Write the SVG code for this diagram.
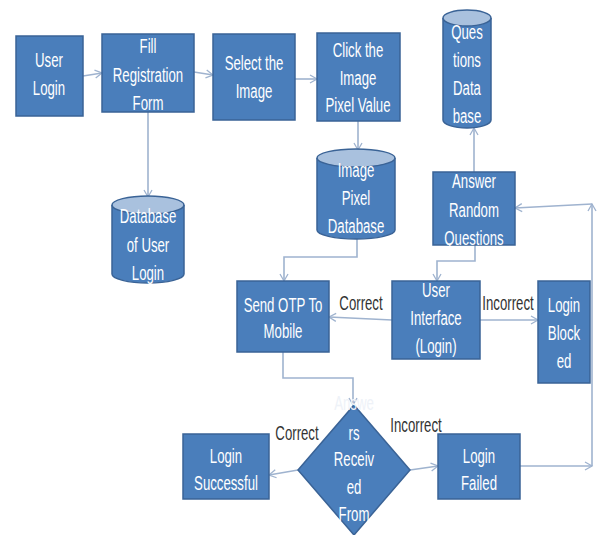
<svg xmlns="http://www.w3.org/2000/svg" width="597" height="535" viewBox="0 0 597 535">
<defs>
<marker id="arr" markerWidth="10" markerHeight="10" refX="8" refY="5" orient="auto" markerUnits="userSpaceOnUse">
<path d="M1,1 L8,5 L1,9" fill="none" stroke="#9fb3cf" stroke-width="1.3"/>
</marker>
<style>
.box{fill:#4a7ebb;stroke:#3a6396;stroke-width:1.5}
.top{fill:#a9c1de;stroke:#3a6396;stroke-width:1.5}
.t{fill:#ffffff;font-family:"Liberation Sans",Arial,sans-serif;font-size:20px;text-anchor:middle}
.lbl{fill:#333333;font-family:"Liberation Sans",Arial,sans-serif;font-size:20px;text-anchor:middle}
.c{fill:none;stroke:#9fb3cf;stroke-width:1.6;marker-end:url(#arr)}
</style>
</defs>
<rect width="597" height="535" fill="#ffffff"/>
<g id="connectors">
<path class="c" d="M83,76 L102,73"/>
<path class="c" d="M194,72 L213,75"/>
<path class="c" d="M295,79 L317,79"/>
<path class="c" d="M148,112 L148,197"/>
<path class="c" d="M358,121 L358,150"/>
<path class="c" d="M357,238 L357,257 L284,257 L284,281"/>
<path class="c" d="M474,172 L474,128"/>
<path class="c" d="M475,245 L475,261 L437,261 L437,281"/>
<path class="c" d="M392,320 L329,317"/>
<path class="c" d="M480,320 L538,320"/>
<path class="c" d="M283,352 L283,378 L353,378 L353,405"/>
<path class="c" d="M298,470 L269,475"/>
<path class="c" d="M410,470 L438,466"/>
<path class="c" d="M520,466 L592,466"/>
<path class="c" d="M592,466 L592,204"/>
<path class="c" d="M592,204 L515,208"/>
</g>
<g id="labels">
<g transform="translate(361,0) scale(0.66,1)"><text class="lbl" x="0" y="310">Correct</text></g>
<g transform="translate(508,0) scale(0.66,1)"><text class="lbl" x="0" y="310">Incorrect</text></g>
<g transform="translate(297,0) scale(0.66,1)"><text class="lbl" x="0" y="440">Correct</text></g>
<g transform="translate(416,0) scale(0.66,1)"><text class="lbl" x="0" y="432">Incorrect</text></g>
</g>
<g id="user-login">
<rect class="box" x="16" y="36" width="67" height="80"/>
<g transform="translate(49,0) scale(0.66,1)">
<text class="t" x="0" y="67">User</text>
<text class="t" x="0" y="95">Login</text>
</g>
</g>
<g id="fill-registration">
<rect class="box" x="102" y="34" width="92" height="78"/>
<g transform="translate(148,0) scale(0.66,1)">
<text class="t" x="0" y="53">Fill</text>
<text class="t" x="0" y="82">Registration</text>
<text class="t" x="0" y="110">Form</text>
</g>
</g>
<g id="select-image">
<rect class="box" x="213" y="34" width="82" height="86"/>
<g transform="translate(254,0) scale(0.66,1)">
<text class="t" x="0" y="70">Select the</text>
<text class="t" x="0" y="98">Image</text>
</g>
</g>
<g id="click-pixel">
<rect class="box" x="317" y="33" width="83" height="88"/>
<g transform="translate(358,0) scale(0.66,1)">
<text class="t" x="0" y="57">Click the</text>
<text class="t" x="0" y="85">Image</text>
<text class="t" x="0" y="112">Pixel Value</text>
</g>
</g>
<g id="questions-db">
<path class="box" d="M443,18 L443,120 A24,8 0 0 0 491,120 L491,18"/>
<ellipse class="top" cx="467" cy="18" rx="24" ry="8"/>
<g transform="translate(467,0) scale(0.66,1)">
<text class="t" x="0" y="39">Ques</text>
<text class="t" x="0" y="67">tions</text>
<text class="t" x="0" y="95">Data</text>
<text class="t" x="0" y="123">base</text>
</g>
</g>
<g id="image-pixel-db">
<path class="box" d="M317,158 L317,230 A39,9 0 0 0 395,230 L395,158"/>
<ellipse class="top" cx="356" cy="158" rx="39" ry="9"/>
<g transform="translate(356,0) scale(0.66,1)">
<text class="t" x="0" y="177">Image</text>
<text class="t" x="0" y="205">Pixel</text>
<text class="t" x="0" y="233">Database</text>
</g>
</g>
<g id="answer-questions">
<rect class="box" x="433" y="172" width="82" height="73"/>
<g transform="translate(474,0) scale(0.66,1)">
<text class="t" x="0" y="188">Answer</text>
<text class="t" x="0" y="217">Random</text>
<text class="t" x="0" y="245">Questions</text>
</g>
</g>
<g id="user-login-db">
<path class="box" d="M112,205 L112,274 A36,9 0 0 0 184,274 L184,205"/>
<ellipse class="top" cx="148" cy="205" rx="36" ry="9"/>
<g transform="translate(148,0) scale(0.66,1)">
<text class="t" x="0" y="223">Database</text>
<text class="t" x="0" y="252">of User</text>
<text class="t" x="0" y="280">Login</text>
</g>
</g>
<g id="send-otp">
<rect class="box" x="237" y="281" width="92" height="71"/>
<g transform="translate(283,0) scale(0.66,1)">
<text class="t" x="0" y="312">Send OTP To</text>
<text class="t" x="0" y="338">Mobile</text>
</g>
</g>
<g id="user-interface">
<rect class="box" x="392" y="281" width="88" height="78"/>
<g transform="translate(436,0) scale(0.66,1)">
<text class="t" x="0" y="297">User</text>
<text class="t" x="0" y="325">Interface</text>
<text class="t" x="0" y="353">(Login)</text>
</g>
</g>
<g id="login-blocked">
<rect class="box" x="538" y="281" width="52" height="102"/>
<g transform="translate(564,0) scale(0.66,1)">
<text class="t" x="0" y="312">Login</text>
<text class="t" x="0" y="340">Block</text>
<text class="t" x="0" y="368">ed</text>
</g>
</g>
<g id="decision">
<path class="box" d="M354,405 L410,470 L354,535 L298,470 Z"/>
<g transform="translate(354,0) scale(0.66,1)">
<text class="t" x="0" y="410" style="fill:#eef2f8">Answe</text>
<text class="t" x="0" y="440">rs</text>
<text class="t" x="0" y="466">Receiv</text>
<text class="t" x="0" y="494">ed</text>
<text class="t" x="0" y="521">From</text>
</g>
</g>
<g id="login-successful">
<rect class="box" x="183" y="434" width="86" height="65"/>
<g transform="translate(226,0) scale(0.66,1)">
<text class="t" x="0" y="463">Login</text>
<text class="t" x="0" y="490">Successful</text>
</g>
</g>
<g id="login-failed">
<rect class="box" x="438" y="434" width="82" height="65"/>
<g transform="translate(479,0) scale(0.66,1)">
<text class="t" x="0" y="463">Login</text>
<text class="t" x="0" y="490">Failed</text>
</g>
</g>
</svg>
